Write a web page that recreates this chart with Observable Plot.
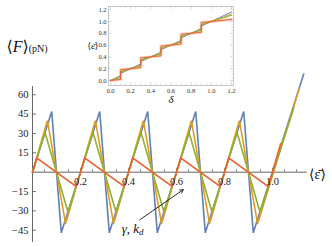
<!DOCTYPE html>
<html><head><meta charset="utf-8">
<script src="https://cdn.jsdelivr.net/npm/d3@7"></script>
<script src="https://cdn.jsdelivr.net/npm/@observablehq/plot@0.6"></script>
<style>
html,body{margin:0;padding:0;background:#fff;}
#wrap{position:relative;width:332px;height:247px;overflow:hidden;}
#wrap svg{position:absolute;left:0;top:0;background:transparent;}
#wrap svg, #wrap svg text{font-family:"Liberation Serif","Times New Roman","DejaVu Serif",serif !important;}
</style></head><body><div id="wrap"></div>
<script>
// ---------- data ----------
const seriesNames = ["s1", "s2", "s3", "s4"];
const seriesColors = ["#5E81B5", "#E19C24", "#8FB032", "#EB6235"];

// main plot: mean strain (x) vs mean force F (pN)
const epsS1 = [0, 0.08, 0.12, 0.28, 0.32, 0.48, 0.52, 0.68, 0.72, 0.88, 0.92, 1.13];
const fS1   = [0, 47, -47, 47, -47, 47, -47, 47, -47, 47, -47, 76];
const epsS2 = [0, 0.062, 0.138, 0.262, 0.338, 0.462, 0.538, 0.662, 0.738, 0.862, 0.938, 1.112];
const fS2   = [0, 40, -40, 40, -40, 40, -40, 40, -40, 40, -40, 65];
const epsS3 = [0, 0.052, 0.148, 0.252, 0.348, 0.452, 0.548, 0.652, 0.748, 0.852, 0.948, 1.089];
const fS3   = [0, 31, -31, 31, -31, 31, -31, 31, -31, 31, -31, 50];
const epsS4 = [0, 0.018, 0.182, 0.218, 0.382, 0.418, 0.582, 0.618, 0.782, 0.818, 0.982, 1.034];
const fS4   = [0, 11, -11, 11, -11, 11, -11, 11, -11, 11, -11, 22];

// inset: delta (x) vs mean strain (y)
const deltaIn = [0, 0.1, 0.1, 0.3, 0.3, 0.5, 0.5, 0.7, 0.7, 0.9, 0.9, 1.2];
const epsInS1 = [0, 0.08, 0.12, 0.28, 0.32, 0.48, 0.52, 0.68, 0.72, 0.88, 0.92, 1.16];
const epsInS2 = [0, 0.062, 0.138, 0.262, 0.338, 0.462, 0.538, 0.662, 0.738, 0.862, 0.938, 1.125];
const epsInS3 = [0, 0.052, 0.148, 0.252, 0.348, 0.452, 0.548, 0.652, 0.748, 0.852, 0.948, 1.105];
const epsInS4 = [0, 0.018, 0.182, 0.218, 0.382, 0.418, 0.582, 0.618, 0.782, 0.818, 0.982, 1.035];

// ticks
const xTickMajor = [0.2, 0.4, 0.6, 0.8, 1.0];
const xTickMinor = [0.05, 0.1, 0.15, 0.25, 0.3, 0.35, 0.45, 0.5, 0.55, 0.65, 0.7, 0.75, 0.85, 0.9, 0.95, 1.05, 1.1];
const yTicks = [-45, -30, -15, 15, 30, 45, 60];
const insetTickMajor = [0, 0.2, 0.4, 0.6, 0.8, 1.0, 1.2];
const insetTickMinor = [0.05, 0.1, 0.15, 0.25, 0.3, 0.35, 0.45, 0.5, 0.55, 0.65, 0.7, 0.75, 0.85, 0.9, 0.95, 1.05, 1.1, 1.15];

// annotation
const arrowFrom = [0.447, -36.9];
const arrowTo = [0.628, -13.6];
const annotAt = [0.417, -43.6];

// ---------- build tables ----------
const mainX = [epsS1, epsS2, epsS3, epsS4];
const mainY = [fS1, fS2, fS3, fS4];
const mainRows = [];
seriesNames.forEach((s, k) => mainX[k].forEach((e, i) => mainRows.push({series: s, eps: e, F: mainY[k][i]})));
const insetY = [epsInS1, epsInS2, epsInS3, epsInS4];
const insetRows = [];
seriesNames.forEach((s, k) => deltaIn.forEach((d, i) => insetRows.push({series: s, delta: d, eps: insetY[k][i]})));

const xDom = [0, 1.15], yDom = [-54.5, 66.4];
const axisColor = "#555";
const serif = "Liberation Serif";
const fmtY = d => d < 0 ? "\u2212" + Math.abs(d) : String(d);

const main = Plot.plot({
  width: 332, height: 247,
  marginLeft: 32, marginRight: 24, marginTop: 86, marginBottom: 5,
  style: {fontFamily: serif, background: "transparent", overflow: "visible"},
  x: {domain: xDom, axis: null},
  y: {domain: yDom, axis: null},
  color: {domain: seriesNames, range: seriesColors},
  marks: [
    Plot.ruleY([0], {x1: xDom[0], x2: 1.145, stroke: axisColor, strokeWidth: 0.9}),
    Plot.ruleX([0], {y1: yDom[0], y2: yDom[1], stroke: axisColor, strokeWidth: 0.9}),
    Plot.ruleX(xTickMinor, {x: d => d, y1: 0, y2: 0, insetTop: -2.5, stroke: axisColor, strokeWidth: 0.7}),
    Plot.ruleX(xTickMajor, {x: d => d, y1: 0, y2: 0, insetTop: -4, stroke: axisColor, strokeWidth: 0.8}),
    Plot.ruleY(yTicks, {y: d => d, x1: 0, x2: 0, insetRight: -4, stroke: axisColor, strokeWidth: 0.8}),
    Plot.line(mainRows, {x: "eps", y: "F", z: "series", stroke: "series", strokeWidth: 1.6, strokeLinejoin: "miter", strokeMiterlimit: 3}),
    Plot.text(xTickMajor, {x: d => d, y: 0, dy: 9, text: d => d.toFixed(1), fontSize: 10.5, fill: "#222", fontFamily: serif}),
    Plot.text(yTicks, {x: 0, y: d => d, dx: -4, textAnchor: "end", text: fmtY, fontSize: 10.5, fill: "#222", fontFamily: serif}),
    Plot.arrow([0], {x1: () => arrowFrom[0], y1: () => arrowFrom[1], x2: () => arrowTo[0], y2: () => arrowTo[1], stroke: "#111", strokeWidth: 0.9, headLength: 6}),
    Plot.text(["γ, kd"], {x: () => annotAt[0], y: () => annotAt[1], text: d => d, fontSize: 13, fontStyle: "italic", fill: "#111", fontFamily: serif}),
    Plot.text(["\u27E8\u03B5\u0304\u27E9"], {x: () => xDom[1], y: () => 0, dx: 9, dy: 2, textAnchor: "middle", text: d => d, fontSize: 14, fill: "#111", fontFamily: serif}),
    Plot.text(["\u27E8F\u27E9(pN)"], {frameAnchor: "top-left", dx: -26, dy: -46, textAnchor: "start", text: d => d, fontSize: 16, fill: "#111", fontFamily: serif})
  ]
});

// post-process rich text
d3.select(main).selectAll("text").each(function() {
  const t = this.textContent;
  if (t === "γ, kd") {
    this.textContent = "";
    const s = d3.select(this);
    s.append("tspan").text("γ, k");
    s.append("tspan").attr("dy", "0.3em").attr("font-size", 9).text("d");
  } else if (t === "\u27E8F\u27E9(pN)") {
    this.textContent = "";
    const s = d3.select(this);
    s.append("tspan").text("\u27E8");
    s.append("tspan").attr("font-style", "italic").text("F");
    s.append("tspan").text("\u27E9");
    s.append("tspan").attr("font-size", 10).text("(pN)");
  }
});

const ixDom = [-0.02, 1.22], iyDom = [-0.085, 1.254];
const frameColor = "#bbb";
const inset = Plot.plot({
  width: 160, height: 112,
  marginLeft: 28, marginRight: 7, marginTop: 6, marginBottom: 27,
  style: {fontFamily: serif, background: "transparent", overflow: "visible"},
  x: {domain: ixDom, axis: null},
  y: {domain: iyDom, axis: null},
  color: {domain: seriesNames, range: seriesColors},
  marks: [
    Plot.frame({stroke: frameColor, strokeWidth: 0.8}),
    Plot.ruleX(insetTickMajor, {x: d => d, y1: iyDom[0], y2: iyDom[0], insetTop: -3, stroke: frameColor, strokeWidth: 0.6}),
    Plot.ruleX(insetTickMinor, {x: d => d, y1: iyDom[0], y2: iyDom[0], insetTop: -1.5, stroke: frameColor, strokeWidth: 0.5}),
    Plot.ruleX(insetTickMajor, {x: d => d, y1: iyDom[1], y2: iyDom[1], insetBottom: -3, stroke: frameColor, strokeWidth: 0.6}),
    Plot.ruleX(insetTickMinor, {x: d => d, y1: iyDom[1], y2: iyDom[1], insetBottom: -1.5, stroke: frameColor, strokeWidth: 0.5}),
    Plot.ruleY(insetTickMajor, {y: d => d, x1: ixDom[0], x2: ixDom[0], insetRight: -3, stroke: frameColor, strokeWidth: 0.6}),
    Plot.ruleY(insetTickMinor, {y: d => d, x1: ixDom[0], x2: ixDom[0], insetRight: -1.5, stroke: frameColor, strokeWidth: 0.5}),
    Plot.ruleY(insetTickMajor, {y: d => d, x1: ixDom[1], x2: ixDom[1], insetLeft: -3, stroke: frameColor, strokeWidth: 0.6}),
    Plot.ruleY(insetTickMinor, {y: d => d, x1: ixDom[1], x2: ixDom[1], insetLeft: -1.5, stroke: frameColor, strokeWidth: 0.5}),
    Plot.line(insetRows.filter(r => r.series === "s4"), {x: "delta", y: "eps", stroke: seriesColors[3], strokeOpacity: 0.3, strokeWidth: 3}),
    Plot.line(insetRows, {x: "delta", y: "eps", z: "series", stroke: "series", strokeWidth: 1}),
    Plot.text(insetTickMajor, {x: d => d, y: () => iyDom[0], dy: 5, text: d => d.toFixed(1), fontSize: 6.5, fill: "#333", fontFamily: serif}),
    Plot.text(insetTickMajor, {x: () => ixDom[0], y: d => d, dx: -2, textAnchor: "end", text: d => d.toFixed(1), fontSize: 6.5, fill: "#333", fontFamily: serif}),
    Plot.text(["δ"], {frameAnchor: "bottom", dy: 17, text: d => d, fontSize: 11, fontStyle: "italic", fill: "#111", fontFamily: serif}),
    Plot.text(["\u27E8\u03B5\u0304\u27E9"], {frameAnchor: "left", dx: -21, text: d => d, fontSize: 9, fill: "#111", fontFamily: serif})
  ]
});
inset.style.left = "80px";
inset.style.top = "0px";

const wrap = document.getElementById("wrap");
wrap.appendChild(main);
wrap.appendChild(inset);
</script></body></html>
